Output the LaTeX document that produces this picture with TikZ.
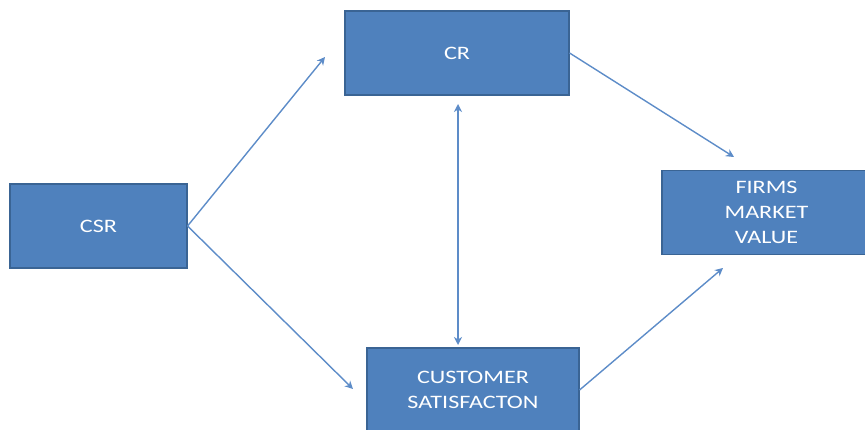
\documentclass[tikz,border=0pt]{standalone}
\usepackage{fontspec}
\setmainfont{Carlito}[FakeStretch=1.27]
\usetikzlibrary{arrows.meta}
\definecolor{boxfill}{HTML}{4F81BD}
\definecolor{boxline}{HTML}{3A6494}
\definecolor{linkblue}{HTML}{5D8CC8}
\begin{document}
\begin{tikzpicture}[x=1pt,y=-1pt,
  block/.style={draw=boxline, line width=1.1pt, fill=boxfill, text=white,
    inner sep=0pt, align=center,
    font=\fontsize{19}{25}\selectfont},
  tip/.style={Stealth[length=8pt,width=8pt,inset=2.5pt]},
  link/.style={draw=linkblue, line width=1.4pt, -{Stealth[length=8pt,width=8pt,inset=2.5pt]}},
  twoway/.style={draw=linkblue, line width=1.4pt,
    {Stealth[length=8pt,width=8pt,inset=2.5pt]}-{Stealth[length=8pt,width=8pt,inset=2.5pt]}}]
\useasboundingbox (0,0) rectangle (865,430);
\clip (0,0) rectangle (865,430);
% boxes
\node[block, minimum width=177pt, minimum height=84pt] (csr) at (98.5,226) {CSR};
\node[block, minimum width=224pt, minimum height=84pt] (cr) at (457,53) {CR};
\node[block, minimum width=209pt, minimum height=84pt] (fmv) at (766.5,212.5) {FIRMS\\MARKET\\VALUE};
\node[block, minimum width=212pt, minimum height=84pt] (cs) at (473,390) {CUSTOMER\\SATISFACTON};
% arrow tips that stop short of the boxes
\coordinate (crIn) at (325,57);
\coordinate (csIn) at (353,389);
\coordinate (fmvTop) at (734,157);
\coordinate (fmvBot) at (723,268);
\coordinate (vTop) at (458,104);
\coordinate (vBot) at (458,345);
% connectors
\draw[link] (csr.east) -- (crIn);
\draw[link] (csr.east) -- (csIn);
\draw[link] (cr.east) -- (fmvTop);
\draw[link] (cs.east) -- (fmvBot);
\draw[twoway] (vTop) -- (vBot);
\end{tikzpicture}
\end{document}
